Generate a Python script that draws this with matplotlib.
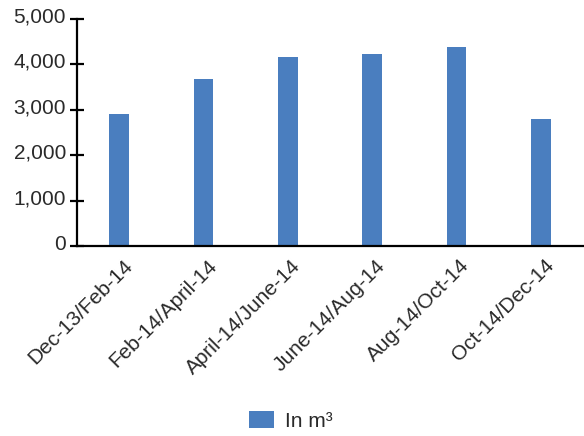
import matplotlib
matplotlib.use("Agg")
import matplotlib.pyplot as plt
from matplotlib.ticker import FuncFormatter
from matplotlib.transforms import ScaledTranslation

periods = ["Dec-13/Feb-14", "Feb-14/April-14", "April-14/June-14",
           "June-14/Aug-14", "Aug-14/Oct-14", "Oct-14/Dec-14"]
volumes = [2900, 3670, 4160, 4230, 4380, 2790]
series_label = "In m\u00b3"

plt.rcParams["font.family"] = ["Liberation Sans", "DejaVu Sans"]
text_color = "#2a2a2a"

fig = plt.figure(figsize=(5.84, 4.36), dpi=100)
ax = fig.add_axes([77 / 584, 1 - 246 / 436, 506 / 584, 227 / 436])

x = list(range(len(periods)))
ax.bar(x, volumes, width=0.23, color="#4a7ebf", label=series_label, zorder=2)

ax.set_xlim(-0.5, len(periods) - 0.5)
ax.set_ylim(0, 5000)
ax.set_yticks([0, 1000, 2000, 3000, 4000, 5000])
ax.yaxis.set_major_formatter(FuncFormatter(lambda v, p: f"{int(v):,}"))

for side in ("top", "right"):
    ax.spines[side].set_visible(False)
for side in ("left", "bottom"):
    ax.spines[side].set_linewidth(1.6)
    ax.spines[side].set_color("black")
    ax.spines[side].set_zorder(3)

ax.tick_params(axis="y", direction="inout", length=10, width=1.6,
               labelsize=15, color="black", labelcolor=text_color, pad=3)
ax.tick_params(axis="x", length=0, labelsize=15, pad=12)

# y labels sit slightly above their ticks
y_shift = ScaledTranslation(0, 4 / 100, fig.dpi_scale_trans)
for lab in ax.get_yticklabels():
    lab.set_transform(lab.get_transform() + y_shift)

ax.set_xticks(x)
ax.set_xticklabels(periods, rotation=45, ha="right", va="center",
                   rotation_mode="anchor", color=text_color)
x_shift = ScaledTranslation(10 / 100, 0, fig.dpi_scale_trans)
for lab in ax.get_xticklabels():
    lab.set_transform(lab.get_transform() + x_shift)

fig.legend(loc="center", bbox_to_anchor=(291 / 584, 1 - 421 / 436), frameon=False,
           fontsize=15, handlelength=1.2, handleheight=0.85, handletextpad=0.5,
           labelcolor=text_color)

fig.savefig("out.png", dpi=100)
